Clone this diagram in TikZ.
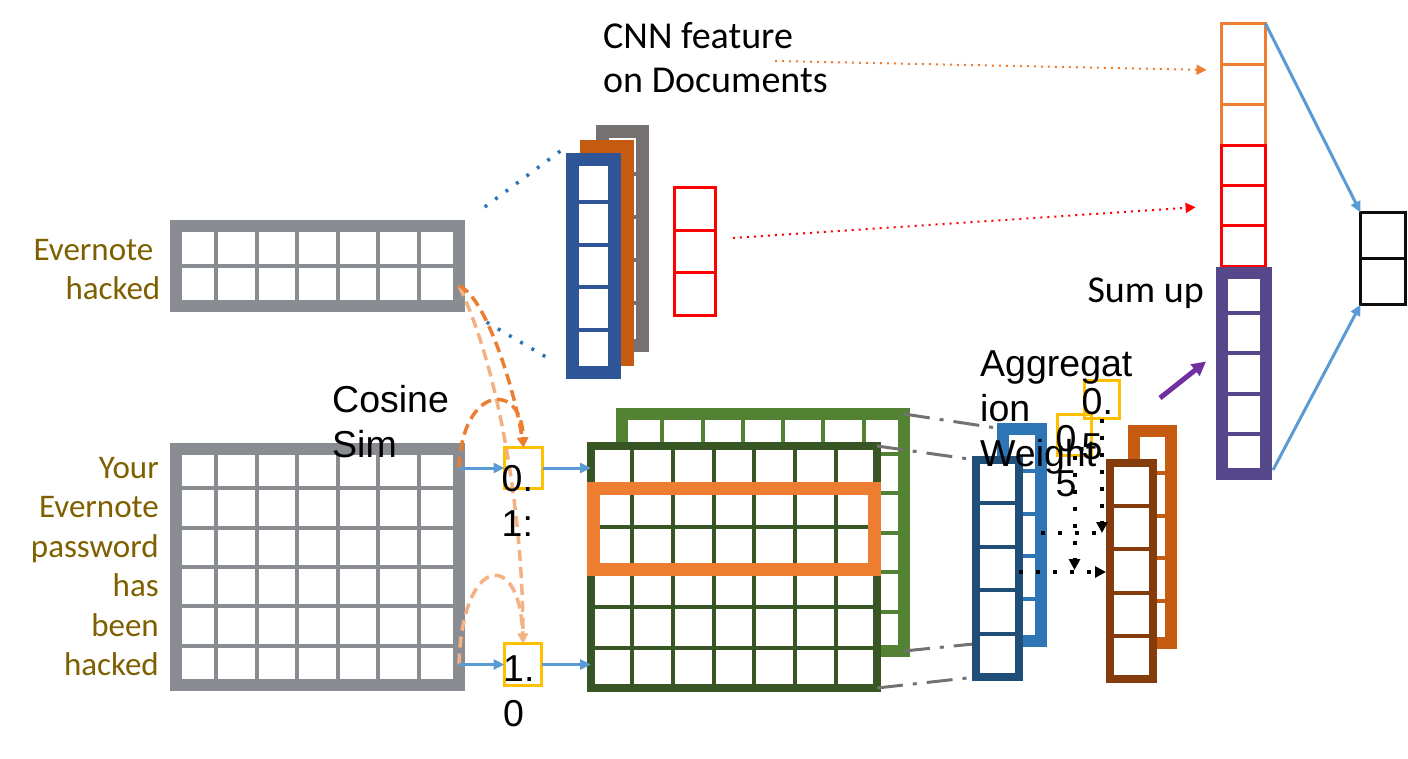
\documentclass[tikz,border=0pt]{standalone}
\usepackage{fontspec}
\setmainfont{Carlito}
\newfontfamily\arialfont{Liberation Sans}
\usepackage{tikz}
\usetikzlibrary{positioning, calc, arrows.meta}

\definecolor{qgray}{HTML}{898C90}
\definecolor{qtext}{HTML}{7F6000}
\definecolor{docblue}{HTML}{2F5597}
\definecolor{docorange}{HTML}{C55A11}
\definecolor{docgray}{HTML}{767171}
\definecolor{featorange}{HTML}{ED7D31}
\definecolor{featred}{HTML}{FF0000}
\definecolor{sumpurple}{HTML}{56468A}
\definecolor{arrpurple}{HTML}{7030A0}
\definecolor{linkblue}{HTML}{5B9BD5}
\definecolor{dotblue}{HTML}{2E75B6}
\definecolor{simyellow}{HTML}{FFC000}
\definecolor{gfront}{HTML}{375623}
\definecolor{gback}{HTML}{548235}
\definecolor{paleorange}{HTML}{F4B183}
\definecolor{aggfront}{HTML}{1F4E79}
\definecolor{aggback}{HTML}{2E75B6}
\definecolor{brfront}{HTML}{843C0C}
\definecolor{brback}{HTML}{C55A11}
\definecolor{outblack}{HTML}{0D0D0D}

\pgfdeclarelayer{front}
\pgfsetlayers{main,front}

% inner grid lines of a box node: name, columns, rows, colour, width
\newcommand{\cellgrid}[5]{%
  \ifnum#2>1
    \foreach \i in {2,...,#2}
      \draw[#4, line width=#5] ($(#1.north west)!{(\i-1)/#2}!(#1.north east)$) -- ($(#1.south west)!{(\i-1)/#2}!(#1.south east)$);
  \fi
  \ifnum#3>1
    \foreach \j in {2,...,#3}
      \draw[#4, line width=#5] ($(#1.north west)!{(\j-1)/#3}!(#1.south west)$) -- ($(#1.north east)!{(\j-1)/#3}!(#1.south east)$);
  \fi
}

\begin{document}
\begin{tikzpicture}[
		x=1pt, y=-1pt,
		box/.style={rectangle, draw=#1, fill=white, inner sep=0pt, outer sep=0pt},
		hiframe/.style={rectangle, draw=#1, inner sep=0pt, outer sep=0pt},
		link/.style={draw=linkblue, line width=3pt, -{Triangle[length=11pt, width=10pt]}},
		simdash/.style={draw=#1, line width=3.5pt, dash pattern=on 11pt off 6pt, -{Triangle[length=10pt, width=10pt]}},
		featdot/.style={draw=#1, line width=2pt, dash pattern=on 2pt off 5pt, -{Triangle[length=10pt, width=10pt]}},
		convdot/.style={draw=dotblue, line width=3.5pt, dash pattern=on 3pt off 10pt},
		projline/.style={draw=docgray, line width=3pt, dash pattern=on 26pt off 10pt on 4pt off 10pt},
		wdot/.style={draw=black, line width=4pt, dash pattern=on 4pt off 13pt},
		qlabel/.style={font=\fontsize{33}{39.5}\selectfont, text=qtext, align=right, inner sep=0pt, anchor=north east},
		note/.style={font=\fontsize{38}{44}\selectfont, align=left, inner sep=0pt, anchor=north west},
		num/.style={font=\arialfont\fontsize{37.5}{45}\selectfont, align=left, inner sep=0pt, anchor=north west}
		]
		\useasboundingbox (0,0) rectangle (1408,758);
		
		% Query and document word matrices
		\node[box=qgray, line width=12pt, minimum width=283pt, minimum height=80pt] (qtop) at (317.5,266) {};
		\cellgrid{qtop}{7}{2}{qgray}{4pt}
		\node[box=qgray, line width=12pt, minimum width=283pt, minimum height=236pt] (qbot) at (317.5,567) {};
		\cellgrid{qbot}{7}{6}{qgray}{4pt}
		
		% CNN filters
		\node[box=docgray, line width=13pt, minimum width=40pt, minimum height=214pt] (docg) at (622.5,238.5) {};
		\cellgrid{docg}{1}{5}{docgray}{4pt}
		\node[box=docorange, line width=13pt, minimum width=41pt, minimum height=213pt] (doco) at (607,253) {};
		\cellgrid{doco}{1}{5}{docorange}{4pt}
		\node[box=docblue, line width=13pt, minimum width=42pt, minimum height=213pt] (docb) at (593.5,266) {};
		\cellgrid{docb}{1}{5}{docblue}{4pt}
		\node[box=featred, line width=3pt, minimum width=41pt, minimum height=128pt] (cnnred) at (695,251.5) {};
		\cellgrid{cnnred}{1}{3}{featred}{3pt}
		
		% Final feature column and output
		\node[box=featorange, line width=3pt, minimum width=44pt, minimum height=121.5pt] (featorg) at (1243.5,84.25) {};
		\cellgrid{featorg}{1}{3}{featorange}{3pt}
		\node[box=featred, line width=3pt, minimum width=44pt, minimum height=121pt] (featred) at (1243.5,205.5) {};
		\cellgrid{featred}{1}{3}{featred}{3pt}
		\node[box=sumpurple, line width=12pt, minimum width=44pt, minimum height=201pt] (sumcol) at (1244,373.5) {};
		\cellgrid{sumcol}{1}{5}{sumpurple}{4pt}
		\node[box=outblack, line width=3pt, minimum width=45pt, minimum height=92pt] (outbox) at (1383,258.5) {};
		\cellgrid{outbox}{1}{2}{outblack}{3pt}
		
		% Similarity matrices
		\node[box=gback, line width=12pt, minimum width=282pt, minimum height=237pt] (greenb) at (763,532.5) {};
		\cellgrid{greenb}{7}{6}{gback}{4pt}
		\node[box=gfront, line width=8pt, minimum width=286pt, minimum height=242pt] (greenf) at (734,567) {};
		\cellgrid{greenf}{7}{6}{gfront}{4pt}
		\node[hiframe=featorange, line width=13pt, minimum width=281pt, minimum height=81pt] (hilite) at (734,529) {};
		
		% Cosine similarity values
		\node[hiframe=simyellow, line width=3pt, minimum width=38pt, minimum height=41pt] (s1) at (523.5,468) {};
		\node[hiframe=simyellow, line width=3pt, minimum width=37pt, minimum height=42pt] (s2) at (523,664.5) {};
		
		% Aggregated columns
		\begin{pgfonlayer}{front}
		\node[box=aggback, line width=12pt, minimum width=38pt, minimum height=212pt] (aggb) at (1022,535) {};
		\cellgrid{aggb}{1}{5}{aggback}{4pt}
		\node[box=aggfront, line width=8pt, minimum width=43pt, minimum height=217pt] (aggf) at (997.5,568.5) {};
		\cellgrid{aggf}{1}{5}{aggfront}{4pt}
		\node[box=brback, line width=12pt, minimum width=37pt, minimum height=212pt] (brownb) at (1152.5,537) {};
		\cellgrid{brownb}{1}{5}{brback}{4pt}
		\node[box=brfront, line width=8pt, minimum width=43pt, minimum height=216pt] (brownf) at (1131.5,571) {};
		\cellgrid{brownf}{1}{5}{brfront}{4pt}
		\end{pgfonlayer}
		
		% Projection to aggregation
		\draw[projline] (greenb.north east) -- (aggb.north west);
		\draw[projline] (greenf.north east) -- (aggf.north west);
		\draw[projline] (greenb.south east) -- (aggb.south west);
		\draw[projline] (greenf.south east) -- (aggf.south west);
		
		\begin{pgfonlayer}{front}
		% Weights
		\node[hiframe=simyellow, line width=3pt, minimum width=35pt, minimum height=38pt] (w1) at (1102,399.5) {};
		\node[hiframe=simyellow, line width=3pt, minimum width=34pt, minimum height=41pt] (w2) at (1074.5,435) {};
		
		% Connections
		\draw[convdot, shorten <=32pt, shorten >=6pt] (qtop.north east) -- ($(docb.north west)+(-6,-13)$);
		\draw[convdot, shorten <=32pt, shorten >=24pt] (qtop.south east) -- (docb.south west);
		
		\coordinate (redsrc) at (733,238);
		\coordinate (orgsrc) at (775,61);
		\draw[featdot=featred, shorten >=26pt] (redsrc) -- (featred.west);
		\draw[featdot=featorange, shorten >=15pt] (orgsrc) -- ([yshift=14pt]featorg.west);
		
		\draw[link] (featorg.north east) -- (outbox.north west);
		\draw[link] ([xshift=7pt, yshift=4pt]sumcol.south east) -- (outbox.south west);
		
		\draw[simdash=paleorange] ($(qtop.east)!0.5!(qtop.south east)$) .. controls (500,370) and (523,520) .. (s2.north);
		\draw[simdash=paleorange] (qbot.east |- s2) .. controls (462,555) and (520,548) .. (s2.north);
		\draw[simdash=featorange] ($(qtop.east)!0.5!(qtop.south east)$) .. controls (485,295) and (515,390) .. (s1.north);
		\draw[simdash=featorange] (qbot.east |- s1) .. controls (462,385) and (522,380) .. (s1.north);
		
		\draw[link] (qbot.east |- s1) -- (s1.west);
		\draw[link] (s1.east) -- (greenf.west |- s1);
		\draw[link] (qbot.east |- s2) -- (s2.west);
		\draw[link] (s2.east) -- (greenf.west |- s2);
		
		\coordinate (wtip1) at (1102,533);
		\coordinate (wtip2) at (1074.5,570);
		\draw[wdot] (aggb.east |- wtip1) -- (wtip1);
		\draw[wdot, -{Triangle[length=11pt, width=11pt]}] (w1.south) -- (wtip1);
		\draw[wdot, -{Triangle[length=11pt, width=11pt]}] (w2.south) -- (wtip2);
		\draw[wdot, -{Triangle[length=11pt, width=11pt]}, shorten >=4pt] (aggf.east |- 0,572) -- (brownf.west |- 0,572);
		
		\coordinate (aggout) at (1160,398);
		\draw[draw=arrpurple, line width=5pt, -{Triangle[length=14pt, width=14pt]}] (aggout) -- ([xshift=-16pt, yshift=12pt]sumcol.west);
		
		% Labels
		\node[qlabel] (qtoplbl) at (160.5,238.7) {Evernote\kern7pt\\hacked};
		\node[qlabel] (qbotlbl) at (159,456.7) {Your\\Evernote\\password\\has\\been\\hacked};
		\node[note] (cnnlbl) at (603,22.5) {CNN feature\\on Documents};
		\node[note, anchor=north east] (sumlbl) at (1204,278) {Sum up};
		\node[num] (coslbl) at (332,385.5) {Cosine\\Sim};
		\node[num] (agglbl) at (980,350) {Aggregat\\ion\\Weight};
		\node[num] (s1val) at (501.5,465) {0.\\1:};
		\node[num] (s2val) at (503,655) {1.\\0};
		\node[num] (w1val) at (1081.5,388) {0.\\5};
		\node[num] (w2val) at (1055.5,425) {0.\\5};
		\end{pgfonlayer}
		
	\end{tikzpicture}
\end{document}
